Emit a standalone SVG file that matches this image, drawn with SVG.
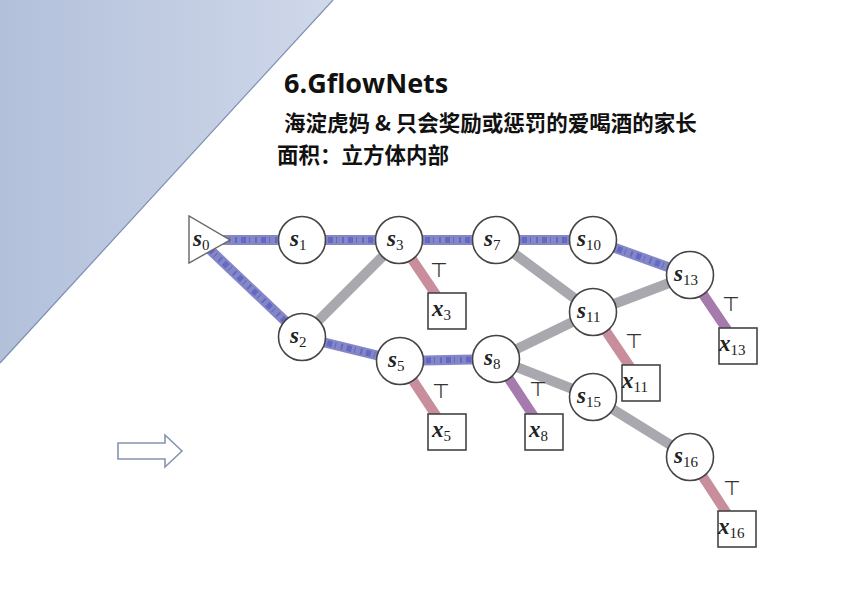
<svg xmlns="http://www.w3.org/2000/svg" width="864" height="610" viewBox="0 0 864 610">
<defs>
<linearGradient id="bg" x1="0" y1="0" x2="1" y2="0">
<stop offset="0" stop-color="#b2c0da"/>
<stop offset="1" stop-color="#d0d8ea"/>
</linearGradient>
<style>
.node circle{fill:#fff;stroke:#444;stroke-width:1.6}
.node rect{fill:#fff;stroke:#444;stroke-width:1.6}
.node polygon{fill:#fff;stroke:#666;stroke-width:1.4}
.lbl{font-family:"Liberation Serif","DejaVu Serif",serif;font-style:italic;font-weight:bold;font-size:23px;fill:#222}
.sub{font-style:normal;font-weight:normal;font-size:15px}
.e{fill:none;stroke-width:10;stroke-linecap:butt}
.blue{stroke:#8487c6}
.bluedot{stroke:#4b50c4;stroke-width:6;stroke-dasharray:2 4 5 3 1 5;opacity:0.55}
.gray{stroke:#a8a8ae}
.pink{stroke:#c98e9c}
.purple{stroke:#a57aac}
.top{font-family:"DejaVu Sans",sans-serif;font-size:20px;fill:#333}
.cjk{font-family:"Noto Sans CJK SC",sans-serif;font-weight:bold;font-size:21.5px;fill:#111}
</style>
</defs>
<rect width="864" height="610" fill="#fff"/>
<polygon points="0,0 333,0 0,363" fill="url(#bg)"/>
<line x1="333" y1="0" x2="0" y2="363" stroke="#7c8fb3" stroke-width="1.2"/>

<text x="284" y="93" font-family="Open Sans, Liberation Sans, sans-serif" font-weight="bold" font-size="27" fill="#111">6.GflowNets</text>
<text class="cjk" x="284" y="131">海淀虎妈 &amp; 只会奖励或惩罚的爱喝酒的家长</text>
<text class="cjk" x="277" y="163">面积：立方体内部</text>

<g id="arrow">
<polygon points="118,443 165,443 165,435 182,451 165,467 165,459 118,459" fill="#fff" stroke="#8594b2" stroke-width="1.6"/>
</g>

<g id="connectors">
<g class="e blue">
<line x1="215" y1="240" x2="302" y2="240"/>
<line x1="205" y1="245" x2="302" y2="337"/>
<line x1="302" y1="240" x2="399" y2="240"/>
<line x1="399" y1="240" x2="496" y2="240"/>
<line x1="496" y1="240" x2="593" y2="240"/>
<line x1="593" y1="240" x2="690" y2="275"/>
<line x1="302" y1="337" x2="400" y2="361"/>
<line x1="400" y1="361" x2="496" y2="359"/>
</g>
<g class="e bluedot">
<line x1="215" y1="240" x2="302" y2="240"/>
<line x1="205" y1="245" x2="302" y2="337"/>
<line x1="302" y1="240" x2="399" y2="240"/>
<line x1="399" y1="240" x2="496" y2="240"/>
<line x1="496" y1="240" x2="593" y2="240"/>
<line x1="593" y1="240" x2="690" y2="275"/>
<line x1="302" y1="337" x2="400" y2="361"/>
<line x1="400" y1="361" x2="496" y2="359"/>
</g>
<g class="e gray">
<line x1="302" y1="337" x2="399" y2="240"/>
<line x1="496" y1="240" x2="593" y2="312"/>
<line x1="593" y1="312" x2="690" y2="275"/>
<line x1="496" y1="359" x2="593" y2="312"/>
<line x1="496" y1="359" x2="593" y2="397"/>
<line x1="593" y1="397" x2="690" y2="457"/>
</g>
<g class="e pink">
<line x1="399" y1="240" x2="447" y2="311"/>
<line x1="400" y1="361" x2="447" y2="432"/>
<line x1="593" y1="312" x2="641" y2="383"/>
<line x1="690" y1="457" x2="737" y2="529"/>
</g>
<g class="e purple">
<line x1="496" y1="359" x2="544" y2="432"/>
<line x1="690" y1="275" x2="738" y2="346"/>
</g>
</g>

<g id="s0" class="node"><polygon points="189,216 189,263 230,240"/><text class="lbl" x="193" y="246">s<tspan class="sub" dy="4">0</tspan></text></g>
<g id="s1" class="node"><circle cx="302" cy="240" r="23.5"/><text class="lbl" x="290" y="246">s<tspan class="sub" dy="4">1</tspan></text></g>
<g id="s2" class="node"><circle cx="302" cy="337" r="23.5"/><text class="lbl" x="290" y="343">s<tspan class="sub" dy="4">2</tspan></text></g>
<g id="s3" class="node"><circle cx="399" cy="240" r="23.5"/><text class="lbl" x="387" y="246">s<tspan class="sub" dy="4">3</tspan></text></g>
<g id="s5" class="node"><circle cx="400" cy="361" r="23.5"/><text class="lbl" x="388" y="367">s<tspan class="sub" dy="4">5</tspan></text></g>
<g id="s7" class="node"><circle cx="496" cy="240" r="23.5"/><text class="lbl" x="484" y="246">s<tspan class="sub" dy="4">7</tspan></text></g>
<g id="s8" class="node"><circle cx="496" cy="359" r="23.5"/><text class="lbl" x="484" y="365">s<tspan class="sub" dy="4">8</tspan></text></g>
<g id="s10" class="node"><circle cx="593" cy="240" r="23.5"/><text class="lbl" x="577" y="246">s<tspan class="sub" dy="4">10</tspan></text></g>
<g id="s11" class="node"><circle cx="593" cy="312" r="23.5"/><text class="lbl" x="577" y="318">s<tspan class="sub" dy="4">11</tspan></text></g>
<g id="s13" class="node"><circle cx="690" cy="275" r="23.5"/><text class="lbl" x="674" y="281">s<tspan class="sub" dy="4">13</tspan></text></g>
<g id="s15" class="node"><circle cx="593" cy="397" r="23.5"/><text class="lbl" x="577" y="403">s<tspan class="sub" dy="4">15</tspan></text></g>
<g id="s16" class="node"><circle cx="690" cy="457" r="23.5"/><text class="lbl" x="674" y="463">s<tspan class="sub" dy="4">16</tspan></text></g>

<g id="x3" class="node"><rect x="428" y="293" width="38" height="36"/><text class="lbl" x="432" y="316">x<tspan class="sub" dy="4">3</tspan></text></g>
<g id="x5" class="node"><rect x="428" y="414" width="38" height="36"/><text class="lbl" x="432" y="437">x<tspan class="sub" dy="4">5</tspan></text></g>
<g id="x8" class="node"><rect x="525" y="414" width="38" height="36"/><text class="lbl" x="529" y="437">x<tspan class="sub" dy="4">8</tspan></text></g>
<g id="x11" class="node"><rect x="622" y="365" width="38" height="36"/><text class="lbl" x="622" y="388">x<tspan class="sub" dy="4">11</tspan></text></g>
<g id="x13" class="node"><rect x="719" y="328" width="38" height="36"/><text class="lbl" x="719" y="351">x<tspan class="sub" dy="4">13</tspan></text></g>
<g id="x16" class="node"><rect x="718" y="511" width="38" height="36"/><text class="lbl" x="718" y="534">x<tspan class="sub" dy="4">16</tspan></text></g>

<g id="tops">
<text class="top" x="430" y="277">⊤</text>
<text class="top" x="432" y="398">⊤</text>
<text class="top" x="529" y="396">⊤</text>
<text class="top" x="625" y="348">⊤</text>
<text class="top" x="722" y="311">⊤</text>
<text class="top" x="723" y="495">⊤</text>
</g>
</svg>
